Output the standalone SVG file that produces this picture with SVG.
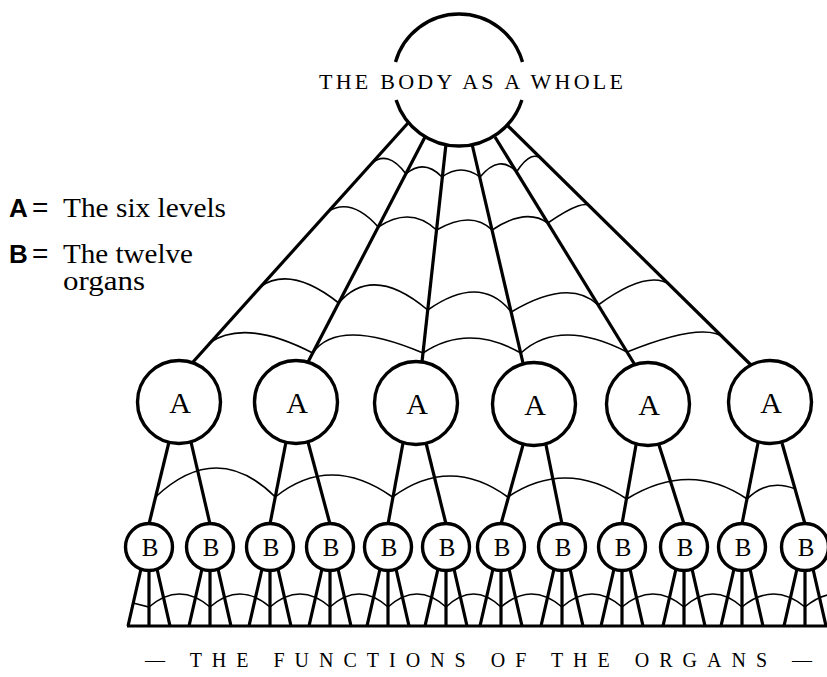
<svg xmlns="http://www.w3.org/2000/svg" width="827" height="677" viewBox="0 0 827 677">
<style>
.bg{fill:#fff}
.node{fill:#fff;stroke:#000;stroke-width:3.4}
.ring{fill:none;stroke:#000;stroke-width:3.4}
.thick{fill:none;stroke:#000;stroke-width:3.2;stroke-linecap:butt}
.web{fill:none;stroke:#000;stroke-width:1.6}
.base{fill:none;stroke:#000;stroke-width:2.8}
.lblA{font-family:"Liberation Serif","Times New Roman",serif;font-size:30px;text-anchor:middle;fill:#000}
.lblB{font-family:"Liberation Serif","Times New Roman",serif;font-size:25px;text-anchor:middle;fill:#000}
.caps{font-family:"Liberation Serif","Times New Roman",serif;fill:#000}
.lk{font-family:"Liberation Sans",Arial,sans-serif;font-weight:bold;font-size:26px;fill:#000}
.eq{font-family:"Liberation Sans",Arial,sans-serif;font-size:28px;fill:#000}
.lt{font-family:"Liberation Serif","Times New Roman",serif;font-size:28px;fill:#000}
</style>
<rect class="bg" x="0" y="0" width="827" height="677"/>

<g id="connectors">
  <!-- spokes from the whole body to the six levels -->
  <line class="thick" x1="408" y1="123" x2="193" y2="362"/>
  <line class="thick" x1="425" y1="137" x2="308" y2="362"/>
  <line class="thick" x1="446" y1="144" x2="422" y2="362"/>
  <line class="thick" x1="472" y1="144" x2="523" y2="363"/>
  <line class="thick" x1="495" y1="137" x2="635" y2="365"/>
  <line class="thick" x1="508" y1="126" x2="751" y2="365"/>
  <!-- web between spokes -->
  <path class="web" d="M371 164 Q387.5 149 406 174 Q424 158.5 442 177 Q461 163 480 177 Q499.75 153.5 516.5 172 Q532.25 147.5 543.5 161"/>
  <path class="web" d="M327.6 212 Q351 196.5 378.2 227 Q410.6 205.5 436.5 230 Q471.7 210 492.1 230 Q526 207.5 547.8 223 Q586.2 196.5 591.7 208"/>
  <path class="web" d="M259.8 287 Q290.7 265 338.7 303 Q372.8 263.5 427.7 310 Q480.5 273 511.3 312 Q569.2 277.5 598.2 305 Q647.7 269 670.4 285"/>
  <path class="web" d="M209 343 Q245 318 312.7 353 Q338 317 423 353 Q468 323 520.9 353 Q560 317.5 627 352 Q704 321 724.5 338"/>
  <!-- legs from levels to organs -->
  <line class="thick" x1="169" y1="442" x2="149" y2="524"/>
  <line class="thick" x1="191" y1="442" x2="210" y2="524"/>
  <line class="thick" x1="286" y1="442" x2="270" y2="524"/>
  <line class="thick" x1="308" y1="442" x2="330" y2="524"/>
  <line class="thick" x1="403" y1="443" x2="388" y2="524"/>
  <line class="thick" x1="426" y1="443" x2="446" y2="524"/>
  <line class="thick" x1="523" y1="445" x2="501" y2="524"/>
  <line class="thick" x1="546" y1="445" x2="562" y2="524"/>
  <line class="thick" x1="636" y1="445" x2="622" y2="524"/>
  <line class="thick" x1="659" y1="445" x2="684" y2="524"/>
  <line class="thick" x1="758" y1="443" x2="742" y2="524"/>
  <line class="thick" x1="782" y1="443" x2="805" y2="524"/>
  <!-- web between the levels' legs -->
  <path class="web" d="M155.6 497 Q217 439 275.3 497 Q330 453 392.5 497 Q450 455 507.8 497 Q566 458 626.7 499 Q690 460 747.2 499 Q768 478 795.5 489"/>
  <!-- legs of the organs -->
  <g class="thick">
    <path d="M141 569 L128 626 M149 570 L149 626 M157 569 L170 626"/>
    <path d="M202 569 L189 626 M210 570 L210 626 M218 569 L231 626"/>
    <path d="M262 569 L249 626 M270 570 L270 626 M278 569 L291 626"/>
    <path d="M322 569 L309 626 M330 570 L330 626 M338 569 L351 626"/>
    <path d="M380 569 L367 626 M388 570 L388 626 M396 569 L409 626"/>
    <path d="M438 569 L425 626 M446 570 L446 626 M454 569 L467 626"/>
    <path d="M493 569 L480 626 M501 570 L501 626 M509 569 L522 626"/>
    <path d="M554 569 L541 626 M562 570 L562 626 M570 569 L583 626"/>
    <path d="M614 569 L601 626 M622 570 L622 626 M630 569 L643 626"/>
    <path d="M676 569 L663 626 M684 570 L684 626 M692 569 L705 626"/>
    <path d="M734 569 L721 626 M742 570 L742 626 M750 569 L763 626"/>
    <path d="M797 569 L784 626 M805 570 L805 626 M813 569 L826 626"/>
  </g>
  <!-- web between the organs' legs -->
  <path class="web" d="M133 603 Q141 605 149 607 Q179.5 581 210 607 Q240 581 270 607 Q300 581 330 607 Q359 581 388 607 Q417 581 446 607 Q473.5 581 501 607 Q531.5 581 562 607 Q592 581 622 607 Q653 581 684 607 Q713 581 742 607 Q773.5 581 805 607 Q836 581 866 607"/>
  <line class="base" x1="127" y1="626" x2="827" y2="626"/>
</g>

<g id="whole">
  <path class="ring" d="M395.5 62 A66 66 0 0 1 522.5 62"/>
  <path class="ring" d="M521.9 100 A66 66 0 0 1 396.1 100"/>
  <text class="caps" x="319" y="89" font-size="22" textLength="304" lengthAdjust="spacing">THE BODY AS A WHOLE</text>
</g>

<g id="A1"><circle class="node" cx="179" cy="402" r="41.5"/><text class="lblA" x="180" y="413">A</text></g>
<g id="A2"><circle class="node" cx="296" cy="402" r="41.5"/><text class="lblA" x="297" y="413">A</text></g>
<g id="A3"><circle class="node" cx="416" cy="403" r="41.5"/><text class="lblA" x="417" y="414">A</text></g>
<g id="A4"><circle class="node" cx="534" cy="404" r="41.5"/><text class="lblA" x="535" y="415">A</text></g>
<g id="A5"><circle class="node" cx="648" cy="404" r="41.5"/><text class="lblA" x="649" y="415">A</text></g>
<g id="A6"><circle class="node" cx="770" cy="402" r="41.5"/><text class="lblA" x="771" y="413">A</text></g>

<g id="B1"><circle class="node" cx="149" cy="547" r="23.5"/><text class="lblB" x="150" y="556">B</text></g>
<g id="B2"><circle class="node" cx="210" cy="547" r="23.5"/><text class="lblB" x="211" y="556">B</text></g>
<g id="B3"><circle class="node" cx="270" cy="547" r="23.5"/><text class="lblB" x="271" y="556">B</text></g>
<g id="B4"><circle class="node" cx="330" cy="547" r="23.5"/><text class="lblB" x="331" y="556">B</text></g>
<g id="B5"><circle class="node" cx="388" cy="547" r="23.5"/><text class="lblB" x="389" y="556">B</text></g>
<g id="B6"><circle class="node" cx="446" cy="547" r="23.5"/><text class="lblB" x="447" y="556">B</text></g>
<g id="B7"><circle class="node" cx="501" cy="547" r="23.5"/><text class="lblB" x="502" y="556">B</text></g>
<g id="B8"><circle class="node" cx="562" cy="547" r="23.5"/><text class="lblB" x="563" y="556">B</text></g>
<g id="B9"><circle class="node" cx="622" cy="547" r="23.5"/><text class="lblB" x="623" y="556">B</text></g>
<g id="B10"><circle class="node" cx="684" cy="547" r="23.5"/><text class="lblB" x="685" y="556">B</text></g>
<g id="B11"><circle class="node" cx="742" cy="547" r="23.5"/><text class="lblB" x="743" y="556">B</text></g>
<g id="B12"><circle class="node" cx="805" cy="547" r="23.5"/><text class="lblB" x="806" y="556">B</text></g>

<g id="legend">
  <text class="lk" x="9" y="217">A</text><text class="eq" x="32" y="217">=</text><text class="lt" x="63" y="217" textLength="163" lengthAdjust="spacingAndGlyphs">The six levels</text>
  <text class="lk" x="9" y="263">B</text><text class="eq" x="32" y="263">=</text><text class="lt" x="63" y="263" textLength="130" lengthAdjust="spacingAndGlyphs">The twelve</text>
  <text class="lt" x="63" y="290" textLength="82" lengthAdjust="spacingAndGlyphs">organs</text>
</g>

<g id="footer">
  <text class="caps" x="145" y="667" font-size="20" textLength="667" lengthAdjust="spacing">— THE FUNCTIONS OF THE ORGANS —</text>
</g>
</svg>
